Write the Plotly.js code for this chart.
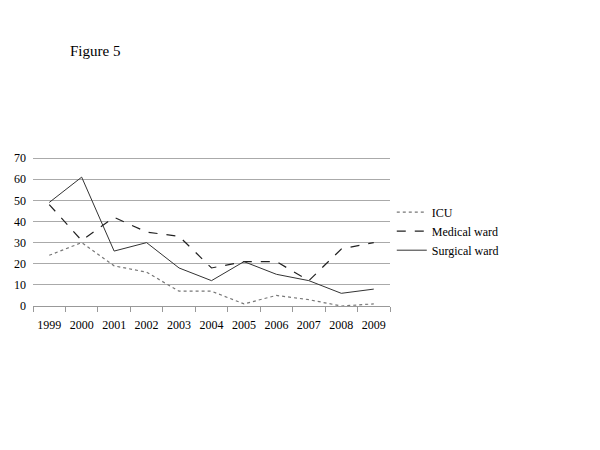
<!DOCTYPE html>
<html><head><meta charset="utf-8">
<script src="https://cdn.plot.ly/plotly-3.0.1.min.js"></script>
<style>body{margin:0;background:#fff}#c{width:600px;height:450px}</style>
</head><body><div id="c"></div>
<script>
const years = ['1999','2000','2001','2002','2003','2004','2005','2006','2007','2008','2009'];
const icu = [24, 30, 19, 16, 7, 7, 1, 5, 3, 0, 1];
const medical = [48, 31, 42, 35, 33, 18, 21, 21, 12, 27, 30];
const surgical = [49, 61, 26, 30, 18, 12, 21, 15, 12, 6, 8];
const names = ['ICU', 'Medical ward', 'Surgical ward'];

const font = {family: '"Liberation Serif", "Times New Roman", serif', size: 12, color: '#000'};
const traces = [
  {x: years, y: icu, name: names[0], mode: 'lines', line: {color: '#777', width: 1.2, dash: 'dot'}},
  {x: years, y: medical, name: names[1], mode: 'lines', line: {color: '#222', width: 1.2, dash: 'dash'}},
  {x: years, y: surgical, name: names[2], mode: 'lines', line: {color: '#333', width: 1}}
];
const layout = {
  width: 600, height: 450,
  margin: {l: 33, r: 210, t: 156, b: 144},
  paper_bgcolor: '#fff', plot_bgcolor: '#fff',
  font: font,
  showlegend: true,
  legend: {x: 1.005, y: 0.722, xanchor: 'left', yanchor: 'top', font: font, tracegroupgap: 0, bgcolor: 'rgba(0,0,0,0)'},
  xaxis: {type: 'category', range: [-0.5, 10.5], tickson: 'boundaries', ticks: 'outside', ticklen: 5, tickcolor: '#999',
          showline: true, linecolor: '#999', showgrid: false, tickfont: font, tickangle: 0, ticklabelstandoff: 8, fixedrange: true},
  yaxis: {range: [0, 71], tickvals: [0,10,20,30,40,50,60,70], showgrid: true, gridcolor: '#aaa', gridwidth: 1, zeroline: false,
          showline: false, ticks: '', tickfont: font, ticklabelstandoff: 6},
  annotations: [{text: 'Figure 5', xref: 'paper', yref: 'paper', x: 0.098, y: 1.0, xanchor: 'left', yanchor: 'bottom',
                 showarrow: false, font: {family: font.family, size: 15, color: '#000'}, yshift: 95}]
};
Plotly.newPlot('c', traces, layout, {displayModeBar: false, staticPlot: true});
</script></body></html>
